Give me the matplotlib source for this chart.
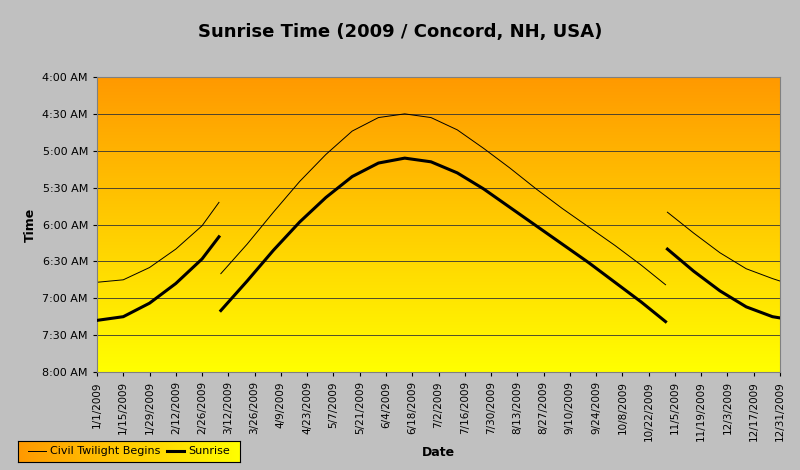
import numpy as np
import pandas as pd
import matplotlib.pyplot as plt
import matplotlib.dates as mdates
from matplotlib.colors import LinearSegmentedColormap

# dates and times (minutes after midnight); NaN splits the DST jumps
dates = ["2009-01-01", "2009-01-15", "2009-01-29", "2009-02-12", "2009-02-26", "2009-03-07",
         "2009-03-08", "2009-03-22", "2009-04-05", "2009-04-19", "2009-05-03", "2009-05-17",
         "2009-05-31", "2009-06-14", "2009-06-28", "2009-07-12", "2009-07-26", "2009-08-09",
         "2009-08-23", "2009-09-06", "2009-09-20", "2009-10-04", "2009-10-18", "2009-10-31",
         "2009-11-01", "2009-11-15", "2009-11-29", "2009-12-13", "2009-12-27", "2009-12-31"]
sunrise = ["7:18", "7:15", "7:04", "6:48", "6:28", "6:10",
           "7:10", "6:46", "6:21", "5:58", "5:38", "5:21",
           "5:10", "5:06", "5:09", "5:18", "5:31", "5:46",
           "6:01", "6:16", "6:31", "6:47", "7:03", "7:19",
           "6:20", "6:38", "6:54", "7:07", "7:15", "7:16"]
twilight = ["6:47", "6:45", "6:35", "6:20", "6:01", "5:42",
            "6:40", "6:16", "5:50", "5:25", "5:03", "4:44",
            "4:33", "4:30", "4:33", "4:43", "4:58", "5:14",
            "5:31", "5:47", "6:02", "6:17", "6:33", "6:49",
            "5:50", "6:07", "6:23", "6:36", "6:44", "6:46"]
breaks = [6, 24]  # index where a new segment starts
tick_dates = pd.date_range("2009-01-01", "2009-12-31", freq="14D").tolist()
ytick_labels = ["4:00 AM", "4:30 AM", "5:00 AM", "5:30 AM", "6:00 AM", "6:30 AM", "7:00 AM", "7:30 AM", "8:00 AM"]


def to_min(t):
    h, m = t.split(":")
    return int(h) * 60 + int(m)


def with_breaks(x, y):
    xs, ys = [], []
    for i, (a, b) in enumerate(zip(x, y)):
        if i in breaks:
            xs.append(a)
            ys.append(np.nan)
        xs.append(a)
        ys.append(b)
    return xs, ys


x = pd.to_datetime(dates)
sr = [to_min(t) for t in sunrise]
tw = [to_min(t) for t in twilight]

grad = LinearSegmentedColormap.from_list("g", ["#FF9900", "#FFFF00"])
fig = plt.figure(figsize=(8, 4.7), dpi=100, facecolor="#C0C0C0")
ax = fig.add_axes([97 / 800, 1 - 372 / 470, 683 / 800, 295 / 470])

x0, x1 = mdates.date2num(pd.Timestamp("2009-01-01")), mdates.date2num(pd.Timestamp("2009-12-31"))
ax.imshow(np.linspace(0, 1, 256).reshape(-1, 1), cmap=grad, aspect="auto",
          extent=[x0, x1, 480, 240], zorder=0)
for v in range(270, 480, 30):
    ax.axhline(v, color="#333333", lw=0.6, zorder=1)

xt, yt = with_breaks(x, tw)
ax.plot(xt, yt, color="black", lw=0.7, label="Civil Twilight Begins", zorder=2)
xs, ys = with_breaks(x, sr)
ax.plot(xs, ys, color="black", lw=2.2, label="Sunrise", zorder=3)

ax.set_xlim(x0, x1)
ax.set_ylim(480, 240)
ax.set_yticks(range(240, 481, 30))
ax.set_yticklabels(ytick_labels, fontsize=8)
ax.set_xticks(tick_dates)
ax.set_xticklabels([f"{d.month}/{d.day}/{d.year}" for d in tick_dates], rotation=90, fontsize=7.5)
ax.set_xlabel("Date", fontsize=9, fontweight="bold")
ax.set_ylabel("Time", fontsize=9, fontweight="bold")
for s in ax.spines.values():
    s.set_color("#808080")
ax.tick_params(length=3)

fig.text(0.5, 1 - 32 / 470, "Sunrise Time (2009 / Concord, NH, USA)", ha="center", va="center",
         fontsize=13, fontweight="bold")

# legend with horizontal gradient box
lax = fig.add_axes([18 / 800, 1 - 462 / 470, 222 / 800, 21 / 470])
lax.imshow(np.linspace(0, 1, 256).reshape(1, -1), cmap=grad, aspect="auto", extent=[0, 1, 0, 1])
lax.set_xticks([])
lax.set_yticks([])
for s in lax.spines.values():
    s.set_color("black")
h, l = ax.get_legend_handles_labels()
lax.legend(h, l, ncol=2, loc="center", frameon=False, fontsize=8, handlelength=1.6,
           columnspacing=0.6, handletextpad=0.3, borderaxespad=0)

fig.savefig("out.png", dpi=100, facecolor=fig.get_facecolor())
